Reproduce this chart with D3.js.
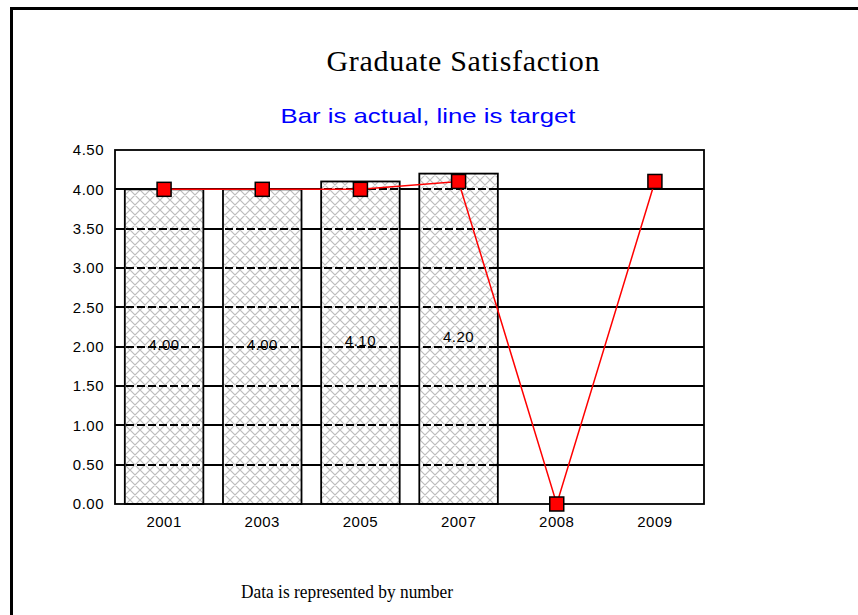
<!DOCTYPE html>
<html>
<head>
<meta charset="utf-8">
<script src="https://cdn.jsdelivr.net/npm/d3@7"></script>
<style>
  body { margin: 0; background: #fff; }
  svg { display: block; }
</style>
</head>
<body>
<div id="chart"></div>
<script>
// chart data
var years = ["2001", "2003", "2005", "2007", "2008", "2009"];
var actual = [4.00, 4.00, 4.10, 4.20, null, null];
var target = [4.00, 4.00, 4.00, 4.10, 0.00, 4.10];
var yTicks = [0, 0.5, 1, 1.5, 2, 2.5, 3, 3.5, 4, 4.5];

var width = 858, height = 615;
var plot = { left: 115, top: 150, right: 704, bottom: 504 };
var smallFont = "Liberation Sans, Arial, sans-serif";

var svg = d3.select("#chart")
  .append("svg")
  .attr("width", width)
  .attr("height", height);

// outer frame (only top and left edges are visible)
svg.append("path")
  .attr("d", "M11.5," + height + "V8.5H" + width)
  .attr("fill", "none")
  .attr("stroke", "#000")
  .attr("stroke-width", 3);

var defs = svg.append("defs");
var pat = defs.append("pattern")
  .attr("id", "hatch")
  .attr("patternUnits", "userSpaceOnUse")
  .attr("width", 10)
  .attr("height", 10);
pat.append("rect").attr("width", 10).attr("height", 10).attr("fill", "#fff");
pat.append("path")
  .attr("d", "M0,0L10,10M10,0L0,10M-1,9L1,11M9,-1L11,1M9,11L11,9M-1,1L1,-1")
  .attr("stroke", "#bcbcbc")
  .attr("stroke-width", 1.2);

var x = d3.scaleBand()
  .domain(years)
  .range([plot.left, plot.right])
  .paddingInner(0.2)
  .paddingOuter(0.1);

var xc = function (d) { return x(d) + x.bandwidth() / 2; };

var y = d3.scaleLinear()
  .domain([0, 4.5])
  .range([plot.bottom, plot.top]);

var gy0 = function (d) { return Math.round(y(d)); };

// titles
svg.append("text")
  .attr("x", 463).attr("y", 71)
  .attr("text-anchor", "middle")
  .attr("font-family", "Liberation Serif, Times New Roman, serif")
  .attr("font-size", 30)
  .attr("textLength", 273)
  .text("Graduate Satisfaction");

svg.append("text")
  .attr("x", 428).attr("y", 123)
  .attr("text-anchor", "middle")
  .attr("font-family", "Liberation Sans, Arial, sans-serif")
  .attr("font-size", 21)
  .attr("textLength", 295)
  .attr("lengthAdjust", "spacingAndGlyphs")
  .attr("fill", "#0000ff")
  .text("Bar is actual, line is target");

svg.append("text")
  .attr("x", 347).attr("y", 598)
  .attr("text-anchor", "middle")
  .attr("font-family", "Liberation Serif, Times New Roman, serif")
  .attr("font-size", 19)
  .attr("textLength", 212)
  .attr("lengthAdjust", "spacingAndGlyphs")
  .text("Data is represented by number");

// solid gridlines
svg.append("g")
  .selectAll("line")
  .data(yTicks.slice(1, -1))
  .enter()
  .append("line")
  .attr("x1", plot.left).attr("x2", plot.right)
  .attr("y1", gy0).attr("y2", gy0)
  .attr("stroke", "#000")
  .attr("stroke-width", 2);

// bars
var barData = years.map(function (d, i) { return { year: d, v: actual[i] }; })
  .filter(function (d) { return d.v != null; });

svg.append("g")
  .selectAll("rect")
  .data(barData)
  .enter()
  .append("rect")
  .attr("x", function (d) { return x(d.year); })
  .attr("y", function (d) { return y(d.v); })
  .attr("width", x.bandwidth())
  .attr("height", function (d) { return y(0) - y(d.v); })
  .attr("fill", "url(#hatch)");

// dashed gridlines seen through the bars
defs.append("clipPath")
  .attr("id", "barclip")
  .selectAll("rect")
  .data(barData)
  .enter()
  .append("rect")
  .attr("x", function (d) { return x(d.year); })
  .attr("y", function (d) { return y(d.v) - 1; })
  .attr("width", x.bandwidth())
  .attr("height", function (d) { return y(0) - y(d.v) + 1; });

svg.append("g")
  .attr("clip-path", "url(#barclip)")
  .selectAll("line")
  .data(yTicks.slice(1, -1))
  .enter()
  .append("line")
  .attr("x1", plot.left).attr("x2", plot.right)
  .attr("y1", gy0).attr("y2", gy0)
  .attr("stroke", "#000")
  .attr("stroke-width", 2)
  .attr("stroke-dasharray", "8,3");

svg.append("g")
  .selectAll("rect")
  .data(barData)
  .enter()
  .append("rect")
  .attr("x", function (d) { return x(d.year); })
  .attr("y", function (d) { return y(d.v); })
  .attr("width", x.bandwidth())
  .attr("height", function (d) { return y(0) - y(d.v); })
  .attr("fill", "none")
  .attr("stroke", "#000")
  .attr("stroke-width", 1.8);

// bar value labels
svg.append("g")
  .selectAll("text")
  .data(barData)
  .enter()
  .append("text")
  .attr("x", function (d) { return xc(d.year); })
  .attr("y", function (d) { return y(d.v / 2) + 3; })
  .attr("text-anchor", "middle")
  .attr("font-family", smallFont)
  .attr("font-size", 15)
  .attr("letter-spacing", 0.5)
  .text(function (d) { return d3.format(".2f")(d.v); });

// plot frame
svg.append("rect")
  .attr("x", plot.left).attr("y", plot.top)
  .attr("width", plot.right - plot.left)
  .attr("height", plot.bottom - plot.top)
  .attr("fill", "none")
  .attr("stroke", "#000")
  .attr("stroke-width", 1.8);

// axes labels
var yAxis = d3.axisLeft(y)
  .tickValues(yTicks)
  .tickSize(0)
  .tickPadding(11)
  .tickFormat(d3.format(".2f"));

var gy = svg.append("g")
  .attr("transform", "translate(" + plot.left + ",0)")
  .call(yAxis);
gy.select(".domain").remove();
gy.selectAll("text")
  .attr("font-family", smallFont)
  .attr("font-size", 15)
  .attr("letter-spacing", 0.5)
  .attr("fill", "#000");

var xAxis = d3.axisBottom(x).tickSize(0).tickPadding(12);
var gx = svg.append("g")
  .attr("transform", "translate(0," + plot.bottom + ")")
  .call(xAxis);
gx.select(".domain").remove();
gx.selectAll("text")
  .attr("font-family", smallFont)
  .attr("font-size", 15)
  .attr("letter-spacing", 0.5)
  .attr("fill", "#000");

// target line
var pts = years.map(function (d, i) { return { year: d, v: target[i] }; });

svg.append("path")
  .datum(pts)
  .attr("fill", "none")
  .attr("stroke", "#ff0000")
  .attr("stroke-width", 1.5)
  .attr("d", d3.line()
    .x(function (d) { return xc(d.year); })
    .y(function (d) { return y(d.v); }));

svg.append("g")
  .selectAll("rect")
  .data(pts)
  .enter()
  .append("rect")
  .attr("x", function (d) { return xc(d.year) - 7; })
  .attr("y", function (d) { return y(d.v) - 7; })
  .attr("width", 14)
  .attr("height", 14)
  .attr("fill", "#ff0000")
  .attr("stroke", "#000")
  .attr("stroke-width", 1.5);
</script>
</body>
</html>
